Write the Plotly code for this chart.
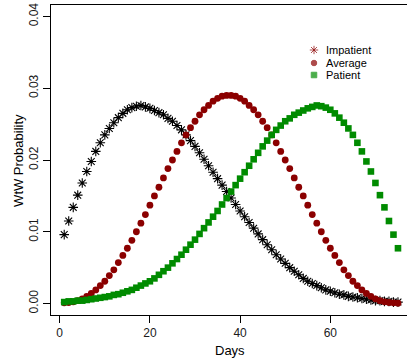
import plotly.graph_objects as go

# Waiting-time (WtW) probability by day for three customer profiles
days = list(range(1, 76))

impatient = [
    0.0096, 0.0115, 0.0134, 0.0151, 0.0168, 0.0184, 0.0198, 0.0212, 0.0224, 0.0235,
    0.0244, 0.0252, 0.0259, 0.0265, 0.0270, 0.0273, 0.0275, 0.0276, 0.0274, 0.0272,
    0.0269, 0.0266, 0.0263, 0.0258, 0.0254, 0.0248, 0.0242, 0.0235, 0.0227, 0.0219,
    0.0210, 0.0201, 0.0192, 0.0183, 0.0174, 0.0165, 0.0156, 0.0147, 0.0138, 0.0129,
    0.0121, 0.0113, 0.0105, 0.0097, 0.0089, 0.0082, 0.0075, 0.0068, 0.0062, 0.0056,
    0.0050, 0.0045, 0.0040, 0.0035, 0.0031, 0.0028, 0.0025, 0.0022, 0.0019, 0.0017,
    0.0015, 0.0013, 0.0012, 0.0010, 0.0009, 0.0008, 0.0007, 0.0006, 0.0005, 0.0004,
    0.0004, 0.0003, 0.0003, 0.0002, 0.0002,
]

average = [
    0.0001, 0.00014, 0.00024, 0.0004, 0.00066, 0.0010, 0.0014, 0.0019, 0.0025, 0.0031,
    0.0039, 0.0047, 0.0057, 0.0067, 0.0077, 0.0088, 0.0100, 0.0112, 0.0124, 0.0137,
    0.0150, 0.0162, 0.0175, 0.0188, 0.0200, 0.0212, 0.0224, 0.0235, 0.0245, 0.0254,
    0.0263, 0.0270, 0.0276, 0.0282, 0.0286, 0.0289, 0.0290, 0.0290, 0.0289, 0.0286,
    0.0282, 0.0276, 0.0270, 0.0263, 0.0254, 0.0245, 0.0235, 0.0224, 0.0212, 0.0200,
    0.0188, 0.0175, 0.0162, 0.0150, 0.0137, 0.0124, 0.0112, 0.0100, 0.0088, 0.0077,
    0.0067, 0.0057, 0.0047, 0.0039, 0.0031, 0.0025, 0.0019, 0.0014, 0.0010, 0.00066,
    0.0004, 0.00024, 0.00014, 0.0001, 0.00005,
]

patient = [
    0.0002, 0.0003, 0.0003, 0.0004, 0.0004, 0.0005, 0.0006, 0.0007, 0.0008, 0.0009,
    0.0010, 0.0012, 0.0013, 0.0015, 0.0017, 0.0019, 0.0022, 0.0025, 0.0028, 0.0031,
    0.0035, 0.0040, 0.0045, 0.0050, 0.0056, 0.0062, 0.0068, 0.0075, 0.0082, 0.0089,
    0.0097, 0.0105, 0.0113, 0.0121, 0.0129, 0.0138, 0.0147, 0.0156, 0.0165, 0.0174,
    0.0183, 0.0192, 0.0201, 0.0210, 0.0219, 0.0227, 0.0235, 0.0242, 0.0248, 0.0254,
    0.0258, 0.0263, 0.0266, 0.0269, 0.0272, 0.0274, 0.0276, 0.0275, 0.0273, 0.0270,
    0.0265, 0.0259, 0.0252, 0.0244, 0.0235, 0.0224, 0.0212, 0.0198, 0.0184, 0.0168,
    0.0151, 0.0134, 0.0115, 0.0096, 0.0077,
]

x_ticks = [0, 20, 40, 60]
y_ticks = [0.00, 0.01, 0.02, 0.03, 0.04]
y_tick_text = ["0.00", "0.01", "0.02", "0.03", "0.04"]

series_names = ["Impatient", "Average", "Patient"]
legend_colors = ["#8B0000", "#8B0000", "#008B00"]

FONT = "Liberation Sans, Arial, Helvetica, sans-serif"
W, H = 407, 362
L, R, T, B = 51, 0, 5, 47

fig = go.Figure()

fig.add_trace(go.Scatter(
    x=days, y=impatient, mode="markers", name=series_names[0],
    marker=dict(symbol="asterisk-open", size=8, color="black",
                line=dict(color="black", width=1.1)),
))
fig.add_trace(go.Scatter(
    x=days, y=average, mode="markers", name=series_names[1],
    marker=dict(symbol="circle", size=6.8, color="#8B0000", line=dict(width=0)),
))
fig.add_trace(go.Scatter(
    x=days, y=patient, mode="markers", name=series_names[2],
    marker=dict(symbol="square", size=6.6, color="#008B00", line=dict(width=0)),
))

# Legend keys drawn on a pixel-scaled overlay axis
leg_x = 314
leg_y = [50, 63, 75]
fig.add_trace(go.Scatter(
    x=[leg_x] * 3, y=leg_y, mode="markers", xaxis="x2", yaxis="y2",
    showlegend=False, hoverinfo="skip",
    marker=dict(
        symbol=["asterisk-open", "circle", "square"],
        size=[7, 5.5, 5.5],
        color=legend_colors,
        line=dict(color=legend_colors, width=1),
    ),
))
for name, yy in zip(series_names, leg_y):
    fig.add_annotation(
        x=leg_x + 10, y=yy, xref="x2", yref="y2", text=name, showarrow=False,
        xanchor="left", yanchor="middle", font=dict(family=FONT, size=11, color="black"),
    )

axis_common = dict(
    showgrid=False, zeroline=False, ticks="outside", ticklen=7, tickwidth=1,
    tickcolor="black", showline=True, linecolor="black", linewidth=1,
    tickfont=dict(family=FONT, size=12, color="#1a1a1a"),
)

fig.update_layout(
    width=W, height=H,
    margin=dict(l=L, r=R, t=T, b=B, pad=0),
    paper_bgcolor="white", plot_bgcolor="white",
    showlegend=False,
    font=dict(family=FONT, size=12, color="black"),
    xaxis=dict(range=[-1.93, 77.0], tickvals=x_ticks, mirror=True, **axis_common),
    yaxis=dict(range=[-0.0016, 0.0416], tickvals=y_ticks, ticktext=y_tick_text,
               tickangle=-90, **axis_common),
    xaxis2=dict(range=[L, W - R], overlaying="x", visible=False, fixedrange=True),
    yaxis2=dict(range=[H - B, T], overlaying="y", visible=False, fixedrange=True),
)

fig.add_annotation(
    x=0.503, y=-0.113, xref="paper", yref="paper", text="Days", showarrow=False,
    xanchor="center", yanchor="middle", font=dict(family=FONT, size=13, color="black"),
)
fig.add_annotation(
    x=-0.093, y=0.5, xref="paper", yref="paper", text="WtW Probability", showarrow=False,
    textangle=-90, xanchor="center", yanchor="middle",
    font=dict(family=FONT, size=13, color="black"),
)

fig.write_html("out.html")
